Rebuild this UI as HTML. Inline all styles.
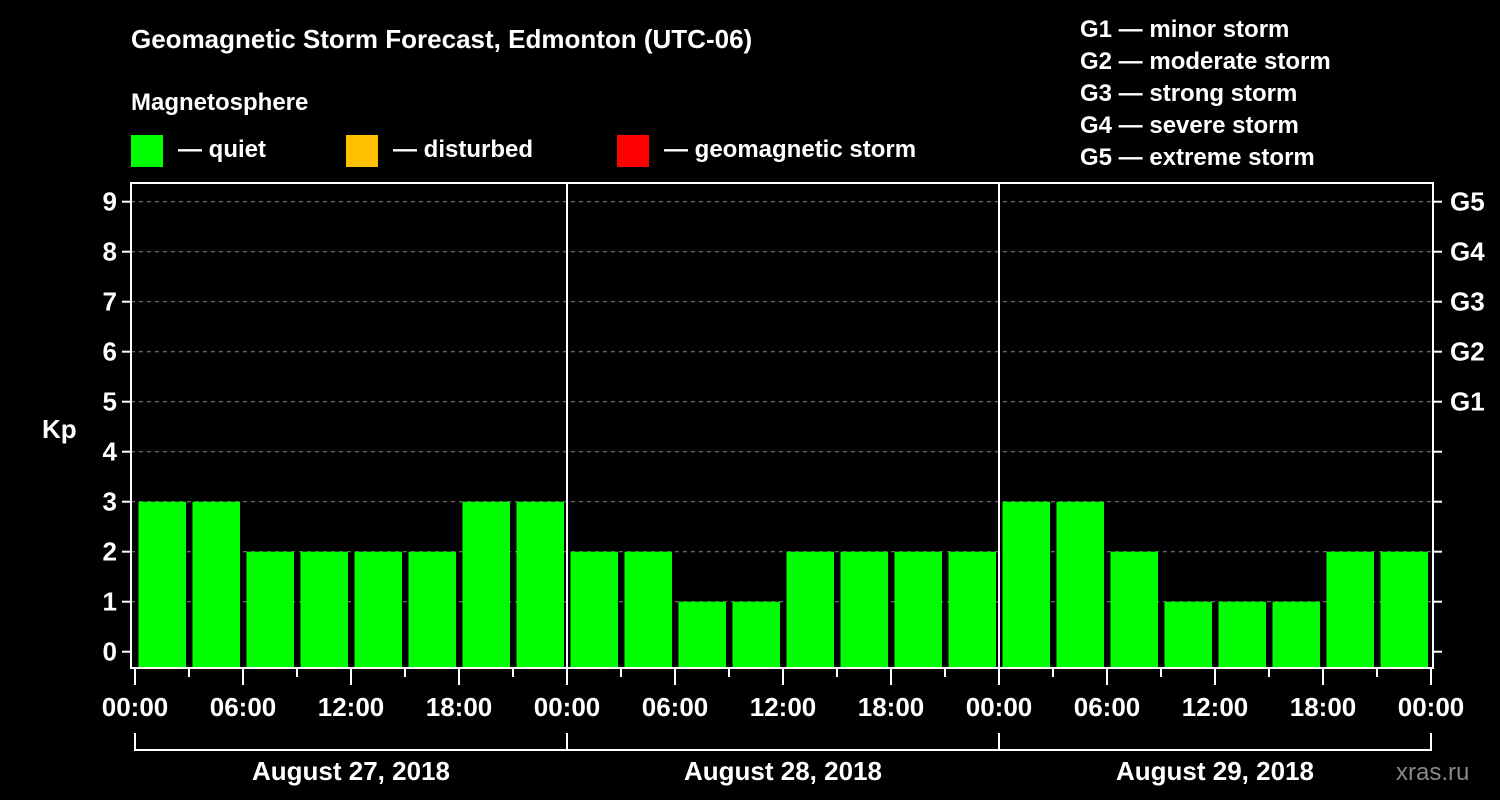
<!DOCTYPE html>
<html><head><meta charset="utf-8"><style>
html,body{margin:0;padding:0;background:#000;}
svg{display:block;font-family:"Liberation Sans",Arial,sans-serif;font-weight:bold;}
</style></head><body>
<svg id="chart" width="1500" height="800" viewBox="0 0 1500 800">
<rect x="0" y="0" width="1500" height="800" fill="#000"/>
<text x="131" y="48" fill="#fff" font-size="26">Geomagnetic Storm Forecast, Edmonton (UTC-06)</text>
<text x="131" y="110" fill="#fff" font-size="24">Magnetosphere</text>
<g><rect x="131" y="135" width="32" height="32" fill="#00ff00"/><text x="178" y="157" fill="#fff" font-size="24">— quiet</text></g>
<g><rect x="346" y="135" width="32" height="32" fill="#ffc000"/><text x="393" y="157" fill="#fff" font-size="24">— disturbed</text></g>
<g><rect x="617" y="135" width="32" height="32" fill="#ff0000"/><text x="664" y="157" fill="#fff" font-size="24">— geomagnetic storm</text></g>
<g fill="#fff" font-size="24">
<text x="1080" y="37">G1 — minor storm</text>
<text x="1080" y="69">G2 — moderate storm</text>
<text x="1080" y="101">G3 — strong storm</text>
<text x="1080" y="133">G4 — severe storm</text>
<text x="1080" y="165">G5 — extreme storm</text>
</g>
<text x="42" y="438" fill="#fff" font-size="26">Kp</text>
<text x="1396" y="780" fill="#888" font-size="24" font-weight="normal">xras.ru</text>
<g id="plot"></g>
</svg>
<script>
const kpValues = [3,3,2,2,2,2,3,3, 2,2,1,1,2,2,2,2, 3,3,2,1,1,1,2,2];
const dayLabels = ["August 27, 2018","August 28, 2018","August 29, 2018"];
const yTicks = [0,1,2,3,4,5,6,7,8,9];
const gLabels = ["G1","G2","G3","G4","G5"];
const timeLabels = ["00:00","06:00","12:00","18:00"];

const NS="http://www.w3.org/2000/svg";
const plot=document.getElementById('plot');
const X0=135, SLOT=54, Y0=651.7, UNIT=50, BOTTOM=668, TOP=183, LEFT=131, RIGHT=1433;
const xs=i=>X0+i*SLOT;
const ys=v=>Y0-v*UNIT;
function mk(tag,a){const e=document.createElementNS(NS,tag);for(const k in a)e.setAttribute(k,a[k]);plot.appendChild(e);return e;}

yTicks.forEach(v=>{
  if(v>0){const g=mk('line',{x1:LEFT,x2:RIGHT,y1:ys(v),y2:ys(v),stroke:'#888','stroke-width':1,'stroke-dasharray':'4,4'});
  
  }
  const t=mk('line',{x1:LEFT-9,x2:LEFT,y1:ys(v),y2:ys(v),stroke:'#fff','stroke-width':2});
  
  
  const rt=mk('line',{x1:RIGHT,x2:RIGHT+9,y1:ys(v),y2:ys(v),stroke:'#fff','stroke-width':2});
  
  
  const l=mk('text',{x:LEFT-14,y:ys(v)+9,fill:'#fff','font-size':26,'text-anchor':'end'});
  l.textContent=v;
  
  
  if(v>=5){const g=mk('text',{x:RIGHT+17,y:ys(v)+9,fill:'#fff','font-size':26});
  g.textContent=gLabels[v-5];
  
  }
});

kpValues.forEach((v,i)=>{
  const col=v>=5?'#ff0000':(v>=4?'#ffc000':'#00ff00');
  const r=mk('rect',{x:xs(i)+3.5,y:ys(v),width:47.5,height:BOTTOM-ys(v),fill:col});
  
  
});

// frame
const f=mk('rect',{x:LEFT,y:TOP,width:RIGHT-LEFT,height:BOTTOM-TOP,fill:'none',stroke:'#fff','stroke-width':2});



for(let i=0;i<=kpValues.length;i++){
  const major=i%2===0;
  const t=mk('line',{x1:xs(i),x2:xs(i),y1:BOTTOM+1,y2:BOTTOM+(major?17:9),stroke:'#fff','stroke-width':2});
  
  
  if(major){const l=mk('text',{x:xs(i),y:716,fill:'#fff','font-size':26,'text-anchor':'middle'});
  l.textContent=timeLabels[(i/2)%4];
  
  }
}
dayLabels.forEach((d,k)=>{
  const a=xs(k*8), b=xs(k*8+8);
  if(k>0){const s=mk('line',{x1:a,x2:a,y1:TOP,y2:BOTTOM,stroke:'#fff','stroke-width':2});
  
  }
  const br=mk('path',{d:`M${a} 733 V750 H${b} V733`,fill:'none',stroke:'#fff','stroke-width':2});
  
  
  const l=mk('text',{x:(a+b)/2,y:780,fill:'#fff','font-size':26,'text-anchor':'middle'});
  l.textContent=d;
  
  
});
</script>
</body></html>
